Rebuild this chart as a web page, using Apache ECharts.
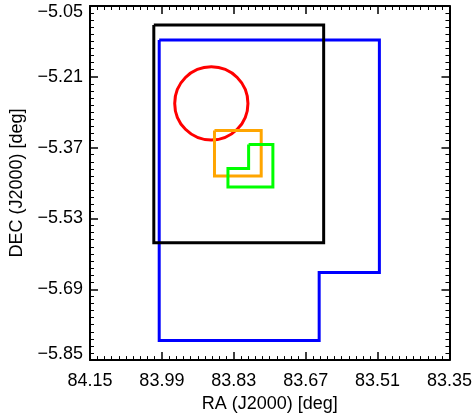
<!DOCTYPE html>
<html>
<head>
<meta charset="utf-8">
<script src="https://cdn.jsdelivr.net/npm/echarts@6/dist/echarts.min.js"></script>
<style>
  html, body { margin: 0; padding: 0; background: #fff; }
  #chart { width: 475px; height: 418px; }
</style>
</head>
<body>
<div id="chart"></div>
<script>
// Axis ranges and tick labels (degrees)
const raTicks = [84.15, 83.99, 83.83, 83.67, 83.51, 83.35];
const decTicks = [-5.85, -5.69, -5.53, -5.37, -5.21, -5.05];

// Footprint outlines: [RA, DEC] vertices
const blackBox = [[84.008, -5.093], [83.630, -5.093], [83.630, -5.585], [84.008, -5.585], [84.008, -5.093]];
const blueOutline = [[83.996, -5.127], [83.506, -5.127], [83.506, -5.652], [83.640, -5.652],
                     [83.640, -5.806], [83.996, -5.806], [83.996, -5.127]];
const orangeBox = [[83.873, -5.331], [83.769, -5.331], [83.769, -5.434], [83.873, -5.434], [83.873, -5.331]];
const greenOutline = [[83.797, -5.363], [83.743, -5.363], [83.743, -5.459], [83.843, -5.459],
                      [83.843, -5.417], [83.797, -5.417], [83.797, -5.363]];
// Circular field: centre [RA, DEC] and radius in degrees
const redCircle = { center: [83.880, -5.270], radius: 0.0815 };

const MINUS = '\u2212';
const fmt = v => (v < 0 ? MINUS : '') + Math.abs(v).toFixed(2);
const font = 'Liberation Sans, Arial, sans-serif';

function axisBase(showLabels) {
  return {
    type: 'value',
    interval: 0.16,
    axisLine: { show: true, onZero: false, lineStyle: { color: '#000', width: 2 } },
    axisTick: { show: true, inside: true, length: 8, lineStyle: { color: '#000', width: 1.5 } },
    minorTick: { show: true, splitNumber: 10, length: 4, lineStyle: { color: '#000', width: 1 } },
    splitLine: { show: false },
    minorSplitLine: { show: false },
    axisLabel: { show: showLabels, color: '#000', fontFamily: font, fontSize: 18, formatter: fmt }
  };
}

const xMain = Object.assign(axisBase(true), {
  min: raTicks[raTicks.length - 1], max: raTicks[0], inverse: true, position: 'bottom',
  name: 'RA (J2000) [deg]', nameLocation: 'middle', nameGap: 28,
  nameTextStyle: { color: '#000', fontFamily: font, fontSize: 18 }
});
xMain.axisLabel.margin = 12;
const xTop = Object.assign(axisBase(false), {
  min: raTicks[raTicks.length - 1], max: raTicks[0], inverse: true, position: 'top'
});
const yMain = Object.assign(axisBase(true), {
  min: decTicks[0], max: decTicks[decTicks.length - 1], position: 'left',
  name: 'DEC (J2000) [deg]', nameLocation: 'middle', nameGap: 64,
  nameTextStyle: { color: '#000', fontFamily: font, fontSize: 18 }
});
Object.assign(yMain.axisLabel, {
  margin: 7, lineHeight: 13, verticalAlignMinLabel: 'bottom', verticalAlignMaxLabel: 'top'
});
const yRight = Object.assign(axisBase(false), {
  min: decTicks[0], max: decTicks[decTicks.length - 1], position: 'right'
});

function outline(data, color) {
  return {
    type: 'line', data: data, xAxisIndex: 0, yAxisIndex: 0,
    symbol: 'none', silent: true, animation: false,
    lineStyle: { color: color, width: 3, join: 'miter' }
  };
}

const chart = echarts.init(document.getElementById('chart'), null, { renderer: 'canvas' });
chart.setOption({
  animation: false,
  backgroundColor: '#fff',
  grid: { left: 90, right: 25, top: 6, bottom: 51, containLabel: false },
  xAxis: [xMain, xTop],
  yAxis: [yMain, yRight],
  series: [
    outline(blueOutline, '#0000ff'),
    outline(blackBox, '#000000'),
    {
      type: 'custom', xAxisIndex: 0, yAxisIndex: 0, silent: true,
      data: [[redCircle.center[0], redCircle.center[1], redCircle.radius]],
      renderItem: function (params, api) {
        const c = api.coord([api.value(0), api.value(1)]);
        const r = api.size([api.value(2), 0])[0];
        return {
          type: 'circle',
          shape: { cx: c[0], cy: c[1], r: r },
          style: { fill: null, stroke: '#ff0000', lineWidth: 3 }
        };
      }
    },
    outline(orangeBox, '#ffa500'),
    outline(greenOutline, '#00ff00')
  ]
});
</script>
</body>
</html>
